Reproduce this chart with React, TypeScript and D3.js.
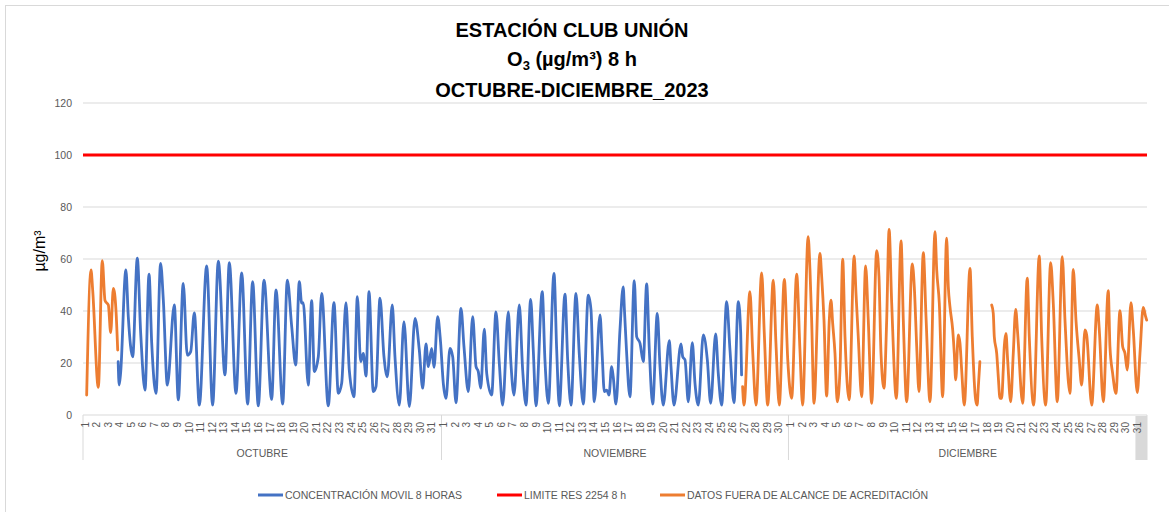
import React from "react";
import * as d3 from "d3";

// ---------- data ----------
const months = ["OCTUBRE", "NOVIEMBRE", "DICIEMBRE"];
const monthDays = [31, 30, 31];
const yTicks = [0, 20, 40, 60, 80, 100, 120];
const limitValue = 100;
const titleLine1 = "ESTACIÓN CLUB UNIÓN";
const titleLine3 = "OCTUBRE-DICIEMBRE_2023";
const yLabel = "µg/m³";
const legendLabels = [
  "CONCENTRACIÓN MOVIL 8 HORAS",
  "LIMITE RES 2254 8 h",
  "DATOS FUERA DE ALCANCE DE ACREDITACIÓN",
];

// [hour since 1 Oct 00:00, µg/m³]
const blueSeries: [number, number][] = [
  [73, 20.5], [75, 11.5], [78, 16], [89, 55.8], [94, 37.8], [103.1, 22.4], [112.7, 60.3], [119.7, 31.5],
  [128.7, 9.6], [137, 54.2], [142.6, 27.6], [151.5, 8.3], [161, 58.3], [166.7, 44.2], [175, 11.5],
  [189.5, 42.3], [197.8, 5.8], [208, 50.6], [216.4, 23], [223.5, 24.4], [231, 39.3], [241.4, 3.8],
  [256.6, 57.3], [269, 3.8], [280.8, 59.2], [294.6, 15.4], [303.6, 58.6], [317.5, 8.3], [329.3, 54.7],
  [341.7, 4.2], [352, 51.3], [363.8, 3.5], [375.6, 51.9], [391.5, 6.0], [400.5, 48.1], [414.4, 4.2],
  [424, 51.9], [433.1, 34], [441.4, 19.2], [448.9, 51.3], [453.8, 43], [457, 43.2], [467.5, 11.5],
  [474.5, 44], [480, 16.7], [488.3, 22.4], [495.3, 46.8], [509, 3.5], [520.8, 43.2], [529.8, 8.3],
  [536.8, 12.2], [545.7, 43.2], [552.6, 17.3], [562.4, 7], [569.3, 45.5], [576.3, 20.5], [581.7, 23.7],
  [587.3, 15], [593.5, 47.4], [602.4, 9], [608, 10.9], [616.3, 44.9], [624.6, 22.4], [631.5, 14.7],
  [641.8, 42.3], [647.4, 22.4], [656.4, 3.8], [666, 35.9], [677.2, 3.2], [689, 37.2], [697.9, 25],
  [704.9, 10.3], [711.8, 27.3], [716.6, 18.6], [723.6, 25.6], [728.4, 18.3], [736, 37.8], [742, 28],
  [747.7, 12.2], [753.2, 6.4], [761.6, 25.6], [767.2, 22.4], [774, 4.7], [784.4, 41], [790.6, 26.3],
  [799.6, 9], [808.7, 37.8], [815.6, 18.6], [820.3, 16.7], [825.3, 10.3], [832.8, 33], [837.8, 16],
  [848, 7.7], [857, 39.7], [863.9, 19.9], [870.9, 3.8], [882.6, 39.7], [887.6, 21.2], [894.4, 7.7],
  [905.4, 42.3], [912.4, 17.3], [919.3, 3.8], [929, 44.5], [934.4, 25], [940, 3.5], [953, 47.4],
  [958.6, 21.2], [965.6, 4.5], [977.4, 54.5], [983, 25], [988.4, 3.5], [1000.2, 46.5], [1005.8, 21.2],
  [1012.7, 3.8], [1023, 46.8], [1029.8, 23.7], [1038.2, 4.2], [1048.6, 46.1], [1054.2, 40.4],
  [1061, 5.1], [1072.9, 38.5], [1077.6, 22.4], [1081.8, 9], [1086.8, 9.6], [1091.6, 7.7], [1097, 18.6],
  [1100.3, 14.7], [1106, 4.2], [1114.3, 32.7], [1121, 49.3], [1123.6, 40.4], [1127.8, 25], [1135, 7],
  [1144, 51.7], [1149, 30.1], [1155.9, 27.6], [1162.7, 20.5], [1169.7, 50.4], [1175.2, 25],
  [1182.2, 4.2], [1191.8, 39.1], [1197.4, 18.6], [1204.2, 3.8], [1216.7, 28.6], [1220.2, 18.6],
  [1226.4, 3.8], [1241, 27.3], [1244.5, 22.4], [1249.3, 21.2], [1256.1, 5.1], [1264.4, 27.8],
  [1270, 12.2], [1276.9, 3.8], [1287.3, 30.8], [1295.6, 21.2], [1302.5, 4.5], [1312.9, 31.2],
  [1318.3, 16], [1325.3, 3.8], [1335.7, 43.6], [1342.6, 25], [1350.9, 4.7], [1359.9, 43.6],
  [1364.9, 31.4], [1366.7, 15.4],
];

const orangeOctStart: [number, number][] = [
  [7.6, 7.7], [16.6, 55.8], [20.1, 48], [31.8, 10.6], [40, 59.4], [45.7, 44], [52.6, 42.3],
  [57.4, 31.7], [63, 48.7], [68.5, 40], [72, 25],
];

const orangeNovDec: [number, number][] = [
  [1368.8, 10.9], [1371.7, 3.8], [1384, 47.4], [1389.6, 25], [1396.6, 3.8], [1408.4, 54.7],
  [1413.8, 31.4], [1420.9, 3.8], [1432.5, 51.9], [1438, 27.6], [1444.9, 3.8], [1455.4, 52.2],
  [1462.5, 21.2], [1470.6, 6.4], [1481, 54.2], [1487.8, 25], [1493.3, 3.8], [1504.8, 68.6],
  [1508.6, 55.8], [1512.1, 36.5], [1516.9, 4.5], [1529.3, 62.2], [1532.9, 53.2], [1537.7, 36.5],
  [1543.2, 7.3], [1548.7, 36.5], [1552.2, 44.2], [1555.7, 35.3], [1560.5, 23.7], [1565.2, 5.1],
  [1570.9, 17.3], [1576.5, 59.9], [1581.3, 30.1], [1590, 5.8], [1600.3, 61.2], [1604.1, 46.8],
  [1608.8, 30.1], [1615.9, 7], [1624.1, 57.3], [1629.6, 36.5], [1636.7, 4.5], [1647, 63.2],
  [1651.8, 53.2], [1656, 23.7], [1662.2, 10.3], [1667.8, 36.5], [1672.8, 71.4], [1678.2, 43],
  [1687.9, 6.4], [1697.6, 67], [1702.3, 36.5], [1709.3, 5.1], [1720.9, 58.1], [1725.1, 49.3],
  [1730.1, 26.3], [1734.8, 9], [1743.8, 62.4], [1749.4, 37.8], [1757.7, 5.1], [1768.1, 70.5],
  [1771.6, 55.8], [1777, 43], [1783.9, 7], [1792.2, 68], [1795.7, 49.3], [1799.1, 41.7],
  [1804.8, 32.7], [1808.1, 23.7], [1811, 13.5], [1816.4, 30.8], [1819.9, 27.6], [1823.4, 17.3],
  [1828.8, 3.8], [1840.7, 56.4], [1845.4, 30.1], [1852.4, 5.8], [1855.5, 3.8], [1858, 10.9],
  [1861.2, 20.5],
];

const orangeDecEnd: [number, number][] = [
  [1885.7, 42.3], [1889, 39.1], [1891.1, 30.1], [1896.1, 23.7], [1899.4, 14.7], [1902.9, 6.4],
  [1906.4, 6.4], [1909.7, 17.3], [1911.8, 26.3], [1915.3, 31.4], [1918.8, 21.2], [1925.1, 5.1],
  [1930.5, 23.7], [1935.5, 40.6], [1939.6, 31.4], [1950, 4.5], [1959.5, 52.6], [1963.7, 30.1],
  [1972.8, 3.8], [1984.4, 61.2], [1989.4, 30.1], [1997.7, 3.8], [2008.1, 58.6], [2013.5, 43],
  [2021.8, 5.1], [2032.2, 60.9], [2037.8, 36.5], [2048.2, 8.3], [2055, 56], [2060.6, 36.5],
  [2067.4, 21.2], [2072.4, 11.5], [2079.3, 32.7], [2082.8, 30.8], [2093.2, 3.8], [2104.8, 42.3],
  [2109, 32.7], [2117.3, 5.1], [2127.6, 47.8], [2131.1, 26.3], [2136.7, 16], [2143.6, 8.3],
  [2151.9, 40.1], [2157.5, 26.3], [2162.3, 23.7], [2167, 17.3], [2174.7, 43.2], [2179.5, 32.7],
  [2187.8, 8.6], [2193.4, 23.7], [2200.2, 41.4], [2205.2, 37.8], [2207.3, 36.5],
];

// ---------- layout ----------
const W = 1169;
const H = 512;
const plotLeft = 83;
const plotRight = 1147;
const plotTop = 103;
const plotBottom = 415;
const BLUE = "#4472c4";
const ORANGE = "#ed7d31";
const RED = "#ff0000";
const GRID = "#d9d9d9";
const TEXT = "#595959";
const FONT = "'Liberation Sans', Arial, sans-serif";

export default function App() {
  const totalHours = d3.sum(monthDays) * 24;
  const x = d3.scaleLinear().domain([0, totalHours]).range([plotLeft, plotRight]);
  const y = d3.scaleLinear().domain([0, 120]).range([plotBottom, plotTop]);

  const line = d3
    .line<[number, number]>()
    .x((d) => x(d[0]))
    .y((d) => y(d[1]))
    .curve(d3.curveMonotoneX);

  const monthStarts: number[] = [];
  let acc = 0;
  monthDays.forEach((n) => {
    monthStarts.push(acc);
    acc += n;
  });
  const dayLabels: { day: number; idx: number }[] = [];
  monthDays.forEach((n, m) => {
    for (let d = 1; d <= n; d++) dayLabels.push({ day: d, idx: monthStarts[m] + d - 1 });
  });
  const lastDayIdx = acc - 1;

  const legendY = 495;
  const legendPos = [258, 497, 660];
  const legendColors = [BLUE, RED, ORANGE];

  return (
    <div style={{ position: "absolute", left: 0, top: 0, width: W, height: H, background: "#fff" }}>
      <svg width={W} height={H} style={{ display: "block", fontFamily: FONT }}>
        <rect x={0} y={0} width={W} height={H} fill="#fff" />
        <rect x={5.5} y={5.5} width={W + 20} height={H + 20} fill="#fff" stroke={GRID} strokeWidth={1} />

        {/* title */}
        <g fill="#000" fontWeight="bold" fontSize={20} textAnchor="middle">
          <text x={572} y={37}>{titleLine1}</text>
          <text x={572} y={66}>
            O<tspan fontSize={13} dy={4}>3</tspan>
            <tspan dy={-4}> (µg/m³) 8 h</tspan>
          </text>
          <text x={572} y={97}>{titleLine3}</text>
        </g>

        {/* gridlines */}
        {yTicks.map((t) => (
          <line key={t} x1={plotLeft} x2={plotRight} y1={y(t)} y2={y(t)} stroke={GRID} strokeWidth={1} />
        ))}
        {yTicks.map((t) => (
          <text key={"l" + t} x={72} y={y(t)} dy="0.35em" textAnchor="end" fontSize={10.5} fill={TEXT}>
            {t}
          </text>
        ))}
        <text
          transform={`translate(45, ${(plotTop + plotBottom) / 2 - 8}) rotate(-90)`}
          textAnchor="middle"
          fontSize={16}
          fill="#000"
        >
          {yLabel}
        </text>

        {/* highlighted last category */}
        <rect
          x={x(lastDayIdx * 24)}
          y={plotBottom + 1}
          width={plotRight - x(lastDayIdx * 24)}
          height={44}
          fill="#d9d9d9"
        />

        {[...monthStarts, acc].map((d, i) => (
          <line key={"s" + i} x1={x(d * 24)} x2={x(d * 24)} y1={plotBottom} y2={460} stroke={GRID} strokeWidth={1} />
        ))}

        {dayLabels.map((d) => (
          <text
            key={"d" + d.idx}
            transform={`translate(${x(d.idx * 24) + 2}, 422) rotate(-90)`}
            textAnchor="end"
            dy="0.35em"
            fontSize={10}
            fill={TEXT}
          >
            {d.day}
          </text>
        ))}

        {months.map((m, i) => (
          <text
            key={m}
            x={(x(monthStarts[i] * 24) + x((monthStarts[i] + monthDays[i]) * 24)) / 2}
            y={457}
            textAnchor="middle"
            fontSize={10.5}
            fill={TEXT}
          >
            {m}
          </text>
        ))}

        <line x1={plotLeft} x2={plotRight} y1={y(limitValue)} y2={y(limitValue)} stroke={RED} strokeWidth={3} />

        <path d={line(blueSeries) || ""} fill="none" stroke={BLUE} strokeWidth={2.8} strokeLinejoin="round" strokeLinecap="round" />
        {[orangeOctStart, orangeNovDec, orangeDecEnd].map((seg, i) => (
          <path key={"o" + i} d={line(seg) || ""} fill="none" stroke={ORANGE} strokeWidth={2.8} strokeLinejoin="round" strokeLinecap="round" />
        ))}

        {legendLabels.map((lab, i) => (
          <g key={lab}>
            <line x1={legendPos[i]} x2={legendPos[i] + 25} y1={legendY} y2={legendY} stroke={legendColors[i]} strokeWidth={3} />
            <text x={legendPos[i] + 27} y={legendY} dy="0.35em" fontSize={10.5} fill={TEXT}>
              {lab}
            </text>
          </g>
        ))}
      </svg>
    </div>
  );
}
